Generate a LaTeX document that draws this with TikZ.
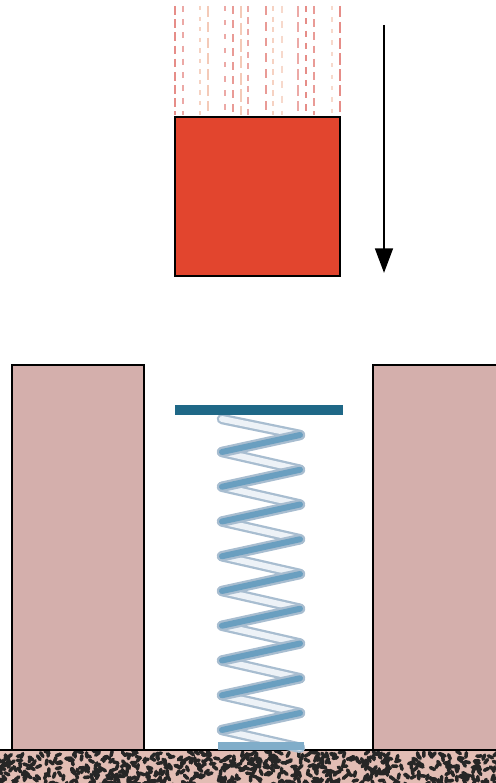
\documentclass[tikz,border=0pt]{standalone}
\usetikzlibrary{arrows.meta}

\definecolor{blockred}{HTML}{E2452E}
\definecolor{wallpink}{HTML}{D4AFAC}
\definecolor{groundpink}{HTML}{E2BDB4}
\definecolor{platebl}{HTML}{1F6887}
\definecolor{coiledge}{HTML}{A8BDD0}
\definecolor{coillight}{HTML}{EDF2F7}
\definecolor{coildark}{HTML}{6A9FC0}
\definecolor{streakred}{HTML}{E0706A}
\definecolor{streaksal}{HTML}{F0B49A}

\tikzset{
  wall/.style={fill=wallpink, draw=black, line width=1.3pt},
  streak/.style={line width=1.6pt, line cap=butt},
  coil/.style={line width=6pt, draw=coiledge, line cap=round},
  coilcore/.style={line width=3.4pt, line cap=round},
}

\begin{document}
\begin{tikzpicture}[x=0.02cm, y=-0.02cm]
    \useasboundingbox (0,0) rectangle (496,783);

    % Motion streaks above the block
    \foreach \sx/\don/\doff/\col/\op in {
        175/5/2.5/streakred/0.8, 183/3.5/4/streakred/0.6,
        200/2.5/3.5/streaksal/0.6, 208/6/3/streaksal/0.7,
        225/3/5/streakred/0.6, 233/4.5/3.5/streakred/0.7,
        241/7/2.5/streaksal/0.7, 248/3.5/3/streakred/0.6,
        266/5/4/streakred/0.7, 273/3/3/streaksal/0.6,
        282/4/4.5/streaksal/0.5, 298/6/3/streakred/0.6,
        306/3.5/3.5/streakred/0.8, 314/4.5/3/streakred/0.7,
        332/2.5/4/streaksal/0.5, 340/6.5/2.5/streakred/0.8}
      \draw[streak, \col, opacity=\op, dash pattern=on \don pt off \doff pt] (\sx,6) -- (\sx,115);

    % Falling block
    \fill[blockred, draw=black, line width=1pt] (175,117) rectangle (340,276);

    % Direction of fall
    \coordinate (a0) at (384,25);
    \coordinate (a1) at (384,273);
    \draw[line width=1.6pt, -{Triangle[width=10pt, length=14pt]}] (a0) -- (a1);

    % Side walls
    \draw[wall] (12,750) -- (12,365) -- (144,365) -- (144,750);
    \draw[wall] (373,750) -- (373,365) -- (500,365);
    \fill[wallpink] (374,366) rectangle (497,749);

    % Ground
    \fill[groundpink] (0,750) rectangle (496,783);
    \begin{scope}
      \clip (0,751) rectangle (496,783);
      \pgfmathsetseed{11}
      \foreach \i in {1,...,620}{
        \pgfmathsetmacro\px{rnd*506-5}
        \pgfmathsetmacro\py{751+rnd*36}
        \pgfmathsetmacro\pa{rnd*180}
        \draw[black!85, line width=2pt, line cap=round] (\px,\py) -- ++(\pa:4.5);
      }
    \end{scope}
    \draw[black, line width=1.1pt] (0,750) -- (496,750);

    % Spring
    \draw[coil] (222,419) -- (300,435);
    \draw[coilcore, coillight] (222,419) -- (300,435);
    \foreach \k in {0,...,8}{
      \pgfmathsetmacro\yr{435+34.75*\k}
      \pgfmathsetmacro\yl{\yr+17}
      \pgfmathsetmacro\yn{\yr+34.75}
      \draw[coil] (222,\yl) -- (300,\yn);
      \draw[coilcore, coillight] (222,\yl) -- (300,\yn);
      \draw[coil] (300,\yr) -- (222,\yl);
      \draw[coilcore, coildark] (300,\yr) -- (222,\yl);
    }
    \fill[coildark!85!white] (218,742) rectangle (304,750);

    % Top plate of the spring
    \fill[platebl] (175,405) rectangle (343,415);
\end{tikzpicture}
\end{document}
